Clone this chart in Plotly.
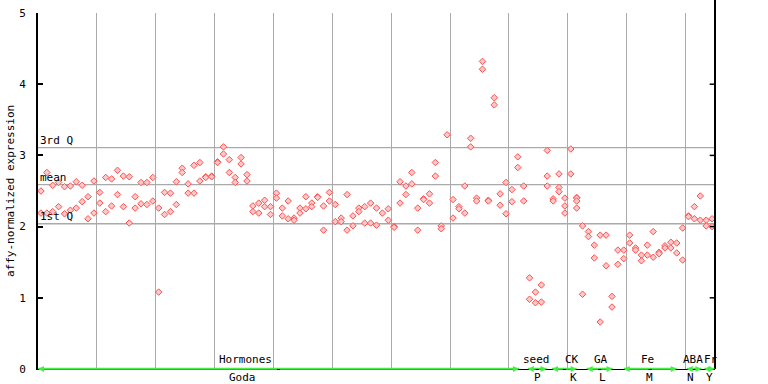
import plotly.graph_objects as go

# ---- data ----
sample_index = (
    [0,0,1,1,2,2,3,3,4,4,5,5,6,6,7,7,8,8,9,9,10,10,11,11,12,12,13,13,14,14,
     15,15,16,16,17,17,18,18,19,19,20,20,21,21,22,22,23,23,24,24,25,25,26,26,
     27,27,28,28,29,29,30,30,31,31,32,32,33,33,34,34,35,35,36,36,37,37,38,38,
     39,39,40,40,41,41,42,42,43,43,44,44,45,45,46,46,47,47,48,48,49,49,50,50,
     51,51,52,52,53,53,54,54,55,55,56,56,57,57,58,59,59,60,60,61,61,62,62,
     63,63,64,64,65,65,66,66,67,67,68,68,69,70,70,71,71,72,72,73,73,74,74,
     75,75,76,76,77,77,78,78,79,79,80,80,81,81,82,82,83,83,84,84,85,85,
     86,86,86,87,87,88,88,88,89,89,89,90,90,91,91,91,91,92,92,93,93,94,94,
     95,95,96,96,97,97,98,98,99,99,100,100,101,101,102,102,103,103,104,104,
     105,105,106,106,107,107,108,108,109,109,110,110,111,111,112,112,113,113,114,114]
)
expression = (
    [2.50,2.19,2.76,2.19,2.58,2.21,2.62,2.28,2.56,2.18,2.57,2.23,2.63,2.26,2.58,2.35,
     2.42,2.11,2.64,2.19,2.48,2.33,2.69,2.21,2.67,2.29,2.79,2.45,2.71,2.28,
     2.70,2.05,2.42,2.26,2.62,2.32,2.62,2.31,2.69,2.36,2.26,1.08,2.48,2.17,2.47,2.21,
     2.63,2.31,2.82,2.76,2.60,2.47,2.86,2.47,2.90,2.64,2.70,2.69,2.71,2.70,
     2.91,2.90,3.12,3.02,2.94,2.76,2.69,2.62,2.97,2.88,2.73,2.64,2.29,2.21,2.33,2.19,
     2.37,2.28,2.28,2.17,2.47,2.40,2.26,2.15,2.36,2.11,2.12,2.09,2.26,2.19,
     2.42,2.25,2.33,2.28,2.42,2.41,2.29,1.95,2.48,2.36,2.31,2.07,
     2.12,2.07,2.45,1.95,2.15,2.01,2.26,2.21,2.28,2.05,2.33,2.05,2.26,2.02,
     2.19,2.25,2.09,2.00,1.99,2.63,2.33,2.57,2.45,
     2.76,2.60,2.26,1.95,2.39,2.38,2.46,2.33,2.90,2.71,2.01,1.97,3.29,2.38,2.12,
     2.28,2.25,2.57,2.19,3.24,3.12,2.40,2.36,
     4.32,4.21,2.37,2.36,3.81,3.71,2.46,2.30,2.62,2.18,2.52,2.35,2.98,2.83,
     2.57,2.36,1.28,0.98,1.08,0.93,1.18,0.94,
     3.07,2.71,2.57,2.39,2.36,2.74,2.55,2.49,2.40,2.29,2.19,3.09,2.74,
     2.41,2.40,2.36,2.26,2.01,1.05,1.93,1.86,1.74,1.56,
     1.88,0.66,1.88,1.45,1.02,0.87,1.67,1.47,1.67,1.55,1.88,1.77,1.70,1.67,
     1.60,1.52,1.74,1.60,1.93,1.57,
     1.64,1.62,1.73,1.70,1.78,1.70,1.77,1.63,1.98,1.53,2.15,2.14,2.28,2.11,
     2.43,2.09,2.09,2.01,2.11,2.00]
)

n_samples = 115
quartile_names = ["3rd Q", "mean", "1st Q"]
quartile_values = [3.11, 2.59, 2.04]

group_top = ["Hormones", "seed", "CK", "GA", "Fe", "ABA", "Fr"]
group_bottom = ["Goda", "P", "K", "L", "M", "N", "Y"]
group_start = [0.0, 83.2, 87.3, 93.2, 99.5, 110.2, 113.2]
group_end = [81.7, 86.4, 91.5, 97.6, 108.5, 112.7, 114.9]
label_top_x = [35.2, 84.7, 90.7, 95.6, 103.5, 111.2, 114.3]
label_bottom_x = [34.8, 84.9, 91.0, 95.9, 103.9, 110.9, 114.1]

FONT = "DejaVu Sans Mono"
GRID = "#aaaaaa"
GREEN = "#44ee44"

x_pos = [k + 0.5 for k in sample_index]

fig = go.Figure()
fig.add_trace(go.Scatter(
    x=x_pos, y=expression, mode="markers",
    marker=dict(symbol="diamond", size=5, color="#ffc8c8",
                line=dict(width=1, color="#ff5050")),
    hoverinfo="x+y", showlegend=False,
))

shapes = []
for v in quartile_values:
    shapes.append(dict(type="line", xref="paper", yref="y", x0=0, x1=1, y0=v, y1=v,
                       line=dict(color=GRID, width=1.3), layer="below"))
shapes.append(dict(type="line", xref="paper", yref="paper", x0=1, x1=1, y0=0, y1=1.04,
                   line=dict(color="black", width=2)))
for t in range(1, 5):
    shapes.append(dict(type="line", xref="x", yref="y", x0=n_samples - 0.9, x1=n_samples,
                       y0=t, y1=t, line=dict(color="black", width=1.5)))
for s, e in zip(group_start, group_end):
    shapes.append(dict(type="line", xref="x", yref="y", x0=s, x1=e, y0=0, y1=0,
                       line=dict(color=GREEN, width=2.5)))

annotations = []
for name, v in zip(quartile_names, quartile_values):
    annotations.append(dict(xref="paper", yref="y", x=0, y=v, text=name, showarrow=False,
                            xanchor="left", yanchor="bottom", yshift=-1,
                            font=dict(family=FONT, size=11, color="black")))
for s, e in zip(group_start, group_end):
    c = (s + e) / 2
    for tip in (s, e):
        annotations.append(dict(xref="x", yref="y", axref="x", ayref="y",
                                x=tip, y=0, ax=c, ay=0, text="", showarrow=True,
                                arrowhead=2, arrowsize=0.8, arrowwidth=1.5,
                                arrowcolor=GREEN))
for t, xl in zip(group_top, label_top_x):
    annotations.append(dict(xref="x", yref="y", x=xl, y=0, text=t, showarrow=False,
                            yanchor="bottom", yshift=1,
                            font=dict(family=FONT, size=11, color="black")))
for t, xl in zip(group_bottom, label_bottom_x):
    annotations.append(dict(xref="x", yref="y", x=xl, y=0, text=t, showarrow=False,
                            yanchor="top", yshift=0,
                            font=dict(family=FONT, size=11, color="black")))
annotations.append(dict(xref="paper", yref="paper", x=0, y=0.5, xshift=-28,
                        text="affy-normalized expression", textangle=-90,
                        showarrow=False, xanchor="center", yanchor="middle",
                        font=dict(family=FONT, size=11, color="black")))

fig.update_layout(
    width=768, height=384,
    margin=dict(l=38, r=53, t=13, b=15, autoexpand=False),
    paper_bgcolor="white", plot_bgcolor="white",
    font=dict(family=FONT, size=11, color="black"),
    shapes=shapes, annotations=annotations,
    xaxis=dict(range=[0, n_samples], showticklabels=False, ticks="", automargin=False,
               tickvals=list(range(10, n_samples, 10)),
               showgrid=True, gridcolor=GRID, gridwidth=1.3,
               zeroline=False, showline=True, linecolor="black", linewidth=1),
    yaxis=dict(range=[0, 5], tickvals=[0, 1, 2, 3, 4, 5], ticks="inside", ticklen=5,
               tickcolor="black", tickwidth=1.5, showgrid=False, zeroline=False,
               automargin=False, ticklabelstandoff=8,
               showline=True, linecolor="black", linewidth=2,
               tickfont=dict(family=FONT, size=11)),
)

fig.write_html("out.html", config={"displayModeBar": False},
               post_script="document.body.style.margin='0';")
